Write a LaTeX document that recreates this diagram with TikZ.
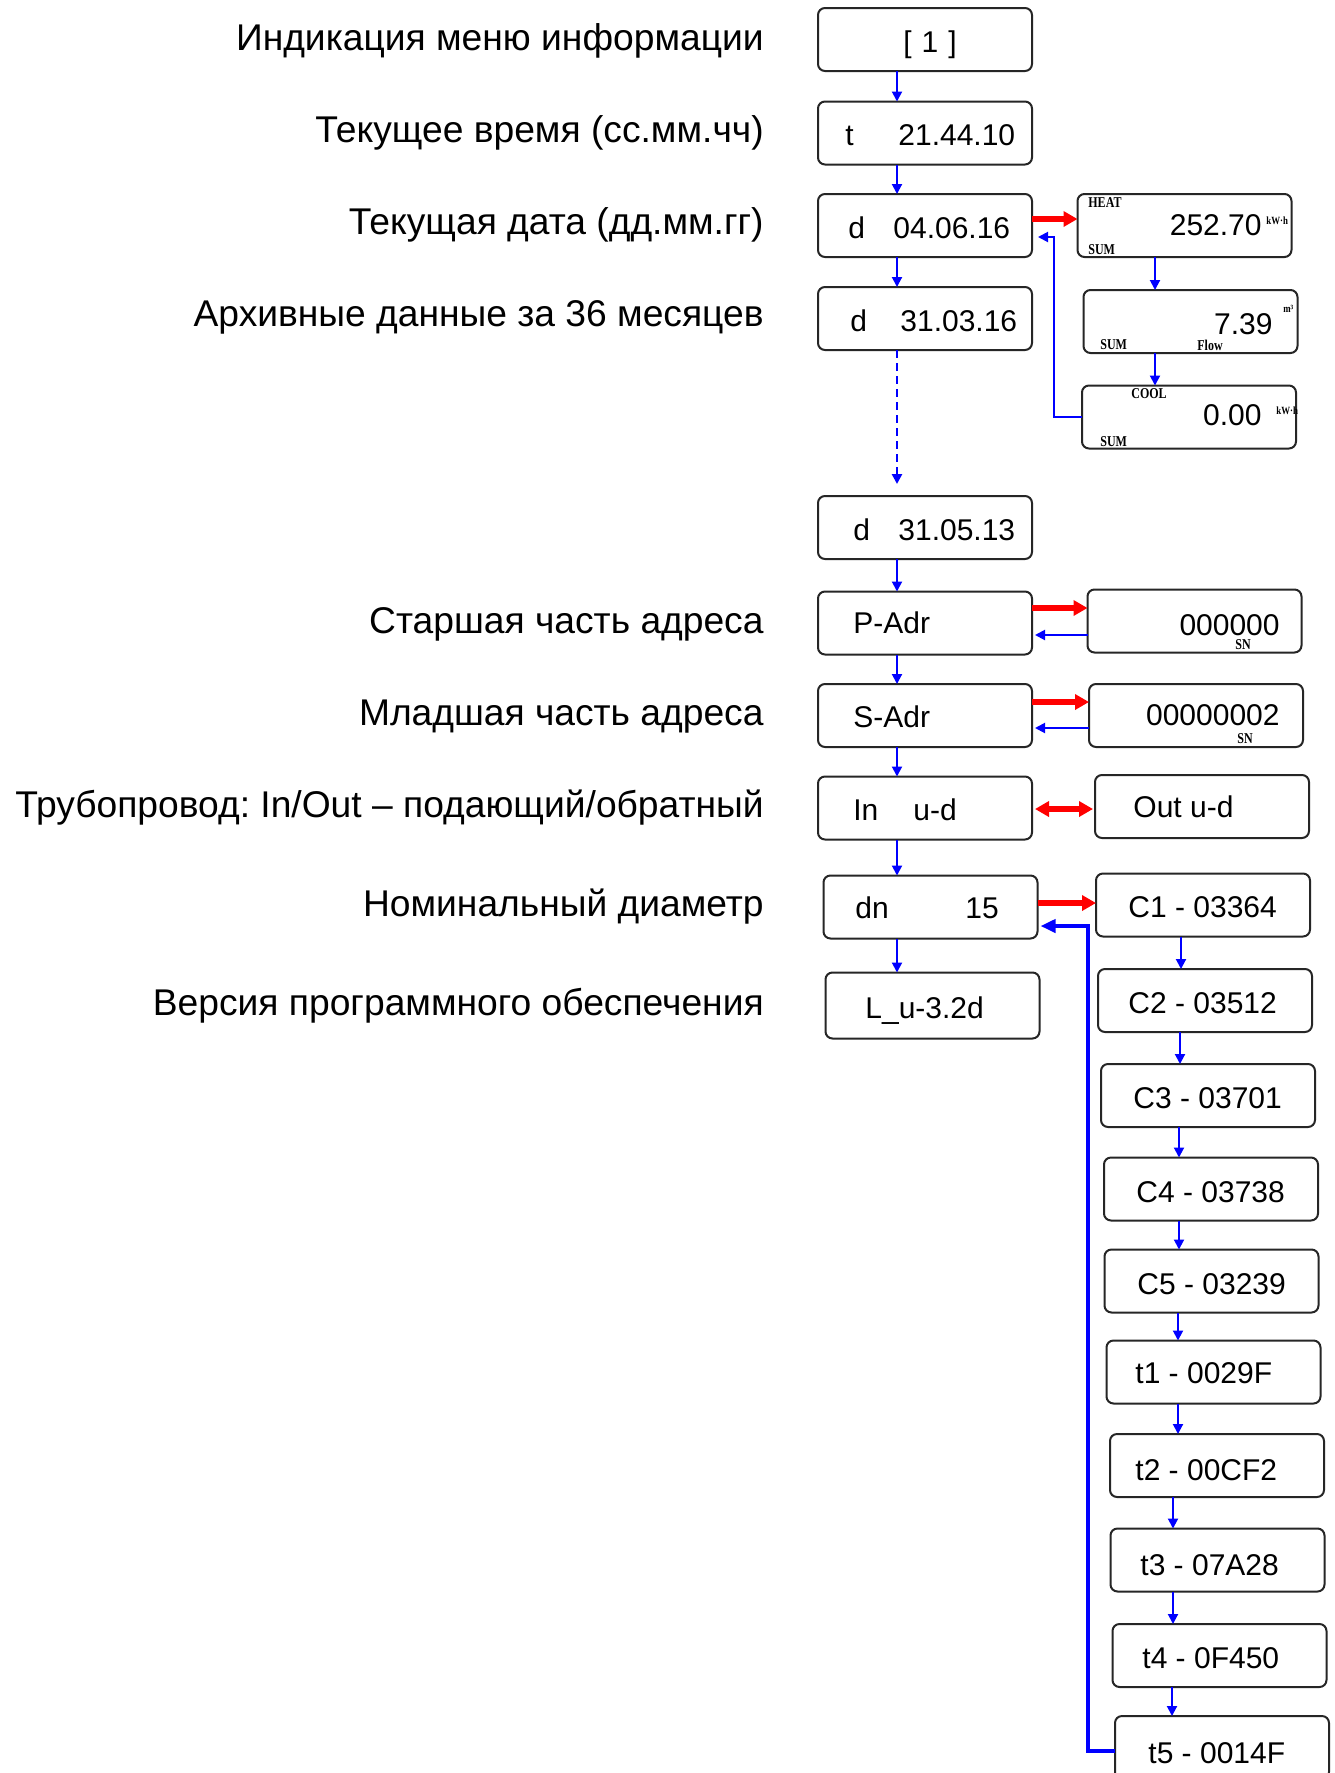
\documentclass[tikz,border=0pt]{standalone}
\usepackage{fontspec}
\setmainfont{Liberation Sans}
\newfontfamily\lcdfont{Liberation Sans}
\newfontfamily\tagfont[FakeStretch=0.8]{Liberation Serif}
\usetikzlibrary{arrows.meta}
\frenchspacing

\definecolor{arrblue}{RGB}{0,0,255}
\definecolor{arrred}{RGB}{255,0,0}

\tikzset{
  lcdbox/.style={draw=black!85, line width=1pt, rounded corners=3.5pt,
    minimum width=107pt, minimum height=31.5pt, inner sep=0pt, outer sep=0pt},
  menulabel/.style={anchor=base east, inner sep=0pt, font=\fontsize{18.6}{22}\selectfont},
  seg/.style={inner sep=0pt, anchor=base west, font=\lcdfont\fontsize{15}{18}\selectfont},
  segr/.style={seg, anchor=base east},
  lcdtag/.style={inner sep=0pt, font=\tagfont\bfseries\fontsize{7.5}{8}\selectfont},
  unittag/.style={inner sep=0pt, font=\tagfont\bfseries\fontsize{5.5}{6}\selectfont},
  stepdown/.style={draw=arrblue, line width=1pt, -{Triangle[length=5pt,width=5pt]}},
  goin/.style={draw=arrred, line width=3pt, -{Triangle[length=7pt,width=7.5pt]}},
  returnarrow/.style={draw=arrblue, line width=1pt, -{Triangle[length=5pt,width=5pt]}, shorten >=1.5pt},
  returnbold/.style={draw=arrblue, line width=2pt, -{Triangle[length=7.5pt,width=6.5pt]}, shorten >=1.5pt},
}

\begin{document}
\begin{tikzpicture}[x=0.5pt, y=-0.5pt]
\clip (0,0) rectangle (1334,1773);
\fill[white] (0,0) rectangle (1334,1773);

% ---------- captions ----------
\node[menulabel] (l1) at (764,50)  {Индикация меню информации};
\node[menulabel] (l2) at (764,142) {Текущее время (сс.мм.чч)};
\node[menulabel] (l3) at (764,234) {Текущая дата (дд.мм.гг)};
\node[menulabel] (l4) at (764,326) {Архивные данные за 36 месяцев};
\node[menulabel] (l5) at (764,633) {Старшая часть адреса};
\node[menulabel] (l6) at (764,725) {Младшая часть адреса};
\node[menulabel] (l7) at (764,817) {Трубопровод: In/Out – подающий/обратный};
\node[menulabel] (l8) at (764,916) {Номинальный диаметр};
\node[menulabel] (l9) at (764,1015) {Версия программного обеспечения};

% ---------- main column of displays ----------
\node[lcdbox] (b1)  at (925,39.5)  {};
\node[lcdbox] (b2)  at (925,133)   {};
\node[lcdbox] (b3)  at (925,225.5) {};
\node[lcdbox] (b4)  at (925,318.5) {};
\node[lcdbox] (b5)  at (925,527.5) {};
\node[lcdbox] (b6)  at (925,623)   {};
\node[lcdbox] (b7)  at (925,715.5) {};
\node[lcdbox] (b8)  at (925,808)   {};
\node[lcdbox] (b9)  at (930.5,907) {};
\node[lcdbox, minimum height=33pt] (b10) at (932.5,1005.5) {};

\node[seg, anchor=base] (b1t) at (930,52) {[\,\,1\,\,]};
\node[seg] (b2p) at (845,145) {t};
\node[seg] (b2v) at (898,145) {21.44.10};
\node[seg] (b3p) at (848,238) {d};
\node[seg] (b3v) at (893,238) {04.06.16};
\node[seg] (b4p) at (850,331) {d};
\node[seg] (b4v) at (900,331) {31.03.16};
\node[seg] (b5p) at (853,540) {d};
\node[seg] (b5v) at (898,540) {31.05.13};
\node[seg] (b6t) at (853,633) {P-Adr};
\node[seg] (b7t) at (853,727) {S-Adr};
\node[seg] (b8p) at (853,820) {In};
\node[seg] (b8v) at (913,820) {u-d};
\node[seg] (b9p) at (855,918) {dn};
\node[seg] (b9v) at (965,918) {15};
\node[seg] (b10t) at (865,1018) {L\_u-3.2d};

% ---------- energy totals ----------
\node[lcdbox] (heat) at (1184.5,225.5) {};
\node[lcdbox] (flow) at (1190.5,321.5) {};
\node[lcdbox] (cool) at (1189,417)     {};

\node[lcdtag, anchor=west] (heatn) at (1088,203) {HEAT};
\node[lcdtag, anchor=west] (heats) at (1088,250) {SUM};
\node[segr] (heatv) at (1262,235) {252.70};
\node[unittag, anchor=west] (heatu) at (1266,221) {kW·h};

\node[segr] (flowv) at (1273,334) {7.39};
\node[unittag, anchor=west] (flowu) at (1283,309) {m³};
\node[lcdtag, anchor=west] (flows) at (1100,345) {SUM};
\node[lcdtag, anchor=west] (flown) at (1197,345) {Flow};

\node[lcdtag, anchor=west] (cooln) at (1131,394) {COOL};
\node[segr] (coolv) at (1262,425) {0.00};
\node[unittag, anchor=west] (coolu) at (1276,411) {kW·h};
\node[lcdtag, anchor=west] (cools) at (1100,442) {SUM};

% ---------- address and pipe side ----------
\node[lcdbox] (pr)  at (1194.5,621) {};
\node[lcdbox] (sr)  at (1196,715.5) {};
\node[lcdbox] (out) at (1202,806.5) {};
\node[segr] (prv) at (1280,635) {000000};
\node[lcdtag] (prs) at (1243,645) {SN};
\node[segr] (srv) at (1280,725) {00000002};
\node[lcdtag] (srs) at (1245,739) {SN};
\node[seg] (outt) at (1133,817) {Out u-d};

% ---------- calibration / temperature chain ----------
\node[lcdbox] (c1) at (1203,905)    {};
\node[lcdbox] (c2) at (1205,1000.5) {};
\node[lcdbox] (c3) at (1208,1095.5) {};
\node[lcdbox] (c4) at (1211,1189)   {};
\node[lcdbox] (c5) at (1211.5,1281) {};
\node[lcdbox] (t1) at (1213.5,1372) {};
\node[lcdbox] (t2) at (1217,1465.5) {};
\node[lcdbox] (t3) at (1217.5,1560) {};
\node[lcdbox] (t4) at (1219.5,1655.5) {};
\node[lcdbox] (t5) at (1222,1747.5) {};

\node[seg] (c1t) at (1128,917)  {C1 - 03364};
\node[seg] (c2t) at (1128,1013) {C2 - 03512};
\node[seg] (c3t) at (1133,1108) {C3 - 03701};
\node[seg] (c4t) at (1136,1202) {C4 - 03738};
\node[seg] (c5t) at (1137,1294) {C5 - 03239};
\node[seg] (t1t) at (1135,1383) {t1 - 0029F};
\node[seg] (t2t) at (1135,1480) {t2 - 00CF2};
\node[seg] (t3t) at (1140,1575) {t3 - 07A28};
\node[seg] (t4t) at (1142,1668) {t4 - 0F450};
\node[seg] (t5t) at (1148,1763) {t5 - 0014F};

% ---------- connectors ----------
\foreach \a/\b in {b1/b2,b2/b3,b3/b4,b5/b6,b6/b7,b7/b8,b8/b9,b9/b10}
  \draw[stepdown] (\a.south -| 897,0) -- (\b.north -| 897,0);

\coordinate (gapend) at (897,484);
\draw[stepdown, line width=1.3pt, dash pattern=on 4pt off 2.5pt] (b4.south -| 897,0) -- (gapend);

\draw[goin] (b3.east |- 0,219) -- (heat.west |- 0,219);
\draw[stepdown] (heat.south -| 1155,0) -- (flow.north -| 1155,0);
\draw[stepdown] (flow.south -| 1155,0) -- (cool.north -| 1155,0);
\coordinate (coolbend) at (1054,237);
\draw[returnarrow, shorten >=3pt] (cool.west) -| (coolbend) -- (b3.east |- coolbend);

\draw[goin] (b6.east |- 0,608) -- (pr.west |- 0,608);
\draw[returnarrow] (pr.west |- 0,635) -- (b6.east |- 0,635);
\draw[goin] (b7.east |- 0,702) -- (sr.west |- 0,702);
\draw[returnarrow] (sr.west |- 0,728) -- (b7.east |- 0,728);

\draw[goin, {Triangle[length=7pt,width=7.5pt]}-{Triangle[length=7pt,width=7.5pt]}, shorten <=1.5pt, shorten >=1pt]
  (b8.east |- 0,809) -- (out.west |- 0,809);

\draw[goin] (b9.east |- 0,903) -- (c1.west |- 0,903);

\foreach \a/\b/\x in {c1/c2/1181, c2/c3/1180, c3/c4/1179, c4/c5/1179, c5/t1/1178,
                      t1/t2/1178, t2/t3/1173, t3/t4/1173, t4/t5/1172}
  \draw[stepdown] (\a.south -| \x,0) -- (\b.north -| \x,0);

\coordinate (chainbend) at (1088,926);
\draw[returnbold, line join=miter] (t5.west |- 0,1751) -| (chainbend) -- (b9.east |- chainbend);
\end{tikzpicture}
\end{document}
